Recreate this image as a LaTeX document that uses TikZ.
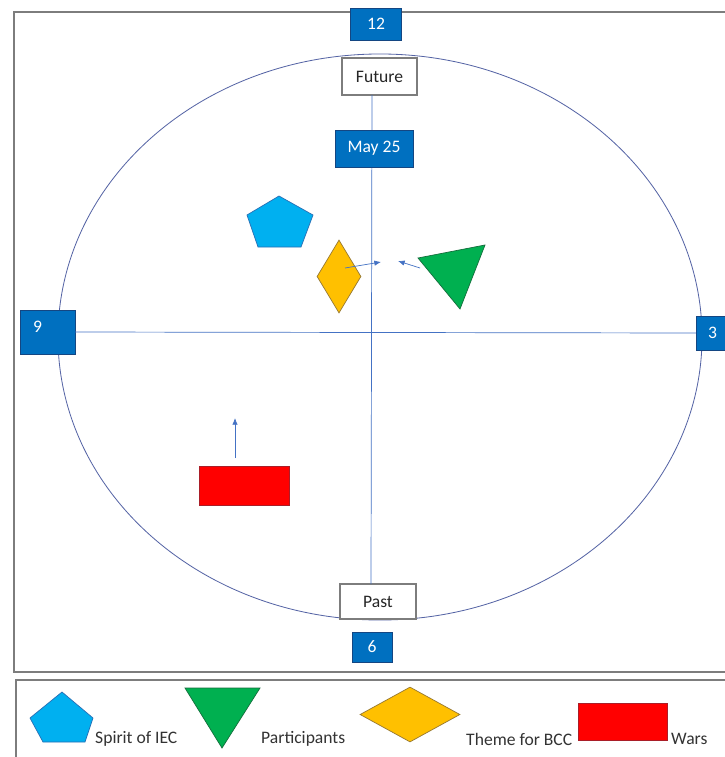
\documentclass[tikz,border=0pt]{standalone}
\usepackage{fontspec}
\setmainfont{Carlito}
\usepackage{xcolor}
\usetikzlibrary{arrows.meta,positioning,shapes.geometric}

\definecolor{numblue}{RGB}{0,112,192}
\definecolor{numedge}{RGB}{20,70,130}
\definecolor{axisblue}{RGB}{68,114,196}
\definecolor{orbitblue}{RGB}{85,100,165}
\definecolor{framegray}{RGB}{125,125,125}
\definecolor{spiritcyan}{RGB}{0,176,240}
\definecolor{spiritedge}{RGB}{40,110,180}
\definecolor{partgreen}{RGB}{0,176,80}
\definecolor{partedge}{RGB}{20,110,60}
\definecolor{themeamber}{RGB}{255,192,0}
\definecolor{themeedge}{RGB}{150,120,50}
\definecolor{warred}{RGB}{255,0,0}
\definecolor{waredge}{RGB}{170,30,40}

\begin{document}
\begin{tikzpicture}[
  x=0.03cm, y=-0.03cm,
  font=\fontsize{15}{18}\selectfont,
  numbox/.style={draw=numedge, fill=numblue, text=white, inner sep=0pt},
  numlabel/.style={text=white, inner sep=0pt},
  tagbox/.style={draw=framegray, fill=white, line width=1pt, inner sep=0pt, text=black!85},
  frame/.style={draw=framegray, line width=1.2pt},
  axis/.style={draw=axisblue, line width=0.6pt},
  orbit/.style={draw=orbitblue, line width=0.7pt},
  arrow/.style={-{Latex[length=2mm,width=1.6mm]}, draw=axisblue, line width=0.6pt},
  spirit/.style={fill=spiritcyan, draw=spiritedge, line width=0.6pt},
  part/.style={fill=partgreen, draw=partedge, line width=0.6pt},
  theme/.style={diamond, fill=themeamber, draw=themeedge, line width=0.6pt, inner sep=0pt},
  war/.style={rectangle, fill=warred, draw=waredge, line width=0.6pt, inner sep=0pt},
  legtext/.style={anchor=west, inner sep=0pt, text=black!80}
]
\useasboundingbox (0,0) rectangle (724,757);
\fill[white] (0,0) rectangle (724,757);

\draw[frame] (14,12) rectangle (745,672);
\draw[frame] (16,680) rectangle (745,775);

\draw[orbit] (380,337) ellipse (9.66cm and 8.49cm);

\node[tagbox, minimum width=2.25cm, minimum height=1.11cm] (future) at (379.5,76.5) {Future};
\node[tagbox, minimum width=2.28cm, minimum height=1.05cm] (past) at (378,601.5) {Past};
\coordinate (vtop) at (372,95);
\coordinate (vbot) at (371,584);
\draw[axis] (vtop) -- (vbot);

\node[numbox, minimum width=1.65cm, minimum height=1.32cm,
  label={[numlabel, anchor=north west, xshift=0.39cm, yshift=-0.33cm]north west:9}] (n9) at (47.5,332) {};
\node[numbox, minimum width=1.44cm, minimum height=1.02cm,
  label={[numlabel, anchor=west, xshift=0.36cm]west:3}] (n3) at (720,333) {};
\draw[axis] (n9.east) -- (n3.west);

\node[numbox, minimum width=1.53cm, minimum height=0.96cm] (n12) at (376,24) {12};
\node[numbox, minimum width=2.34cm, minimum height=1.11cm] (may) at (374,148.5) {May 25};
\node[numbox, minimum width=1.2cm, minimum height=0.9cm] (n6) at (372,647) {6};

\filldraw[spirit] (279,196) -- (313,215) -- (301,247) -- (258,247) -- (247,215) -- cycle;
\filldraw[part] (418,258) -- (485,245) -- (460,309) -- cycle;
\node[theme, minimum width=1.32cm, minimum height=2.19cm] (bcc) at (339,276.5) {};
\node[war, minimum width=2.7cm, minimum height=1.17cm] (wars) at (244,485.5) {};

\coordinate (btail) at (345,268);
\coordinate (bhead) at (381,262);
\coordinate (ptail) at (420,268);
\coordinate (phead) at (398,261);
\coordinate (wtail) at (235,458);
\coordinate (whead) at (235,418);
\draw[arrow] (btail) -- (bhead);
\draw[arrow] (ptail) -- (phead);
\draw[arrow] (wtail) -- (whead);

\filldraw[spirit] (62,692) -- (93,718) -- (85,742) -- (43,742) -- (30,718) -- cycle;
\node[legtext] (lspirit) at (95,739) {Spirit of IEC};
\filldraw[part] (185,688) -- (260,688) -- (222,748) -- cycle;
\node[legtext] (lpart) at (261,739) {Participants};
\node[theme, minimum width=3cm, minimum height=1.65cm] (lbcc) at (410,714.5) {};
\node[legtext] (ltheme) at (466,739) {Theme for BCC};
\node[war, minimum width=2.67cm, minimum height=1.11cm] (lwars) at (622.5,721.5) {};
\node[legtext] (lwar) at (671,739) {Wars};
\end{tikzpicture}
\end{document}
